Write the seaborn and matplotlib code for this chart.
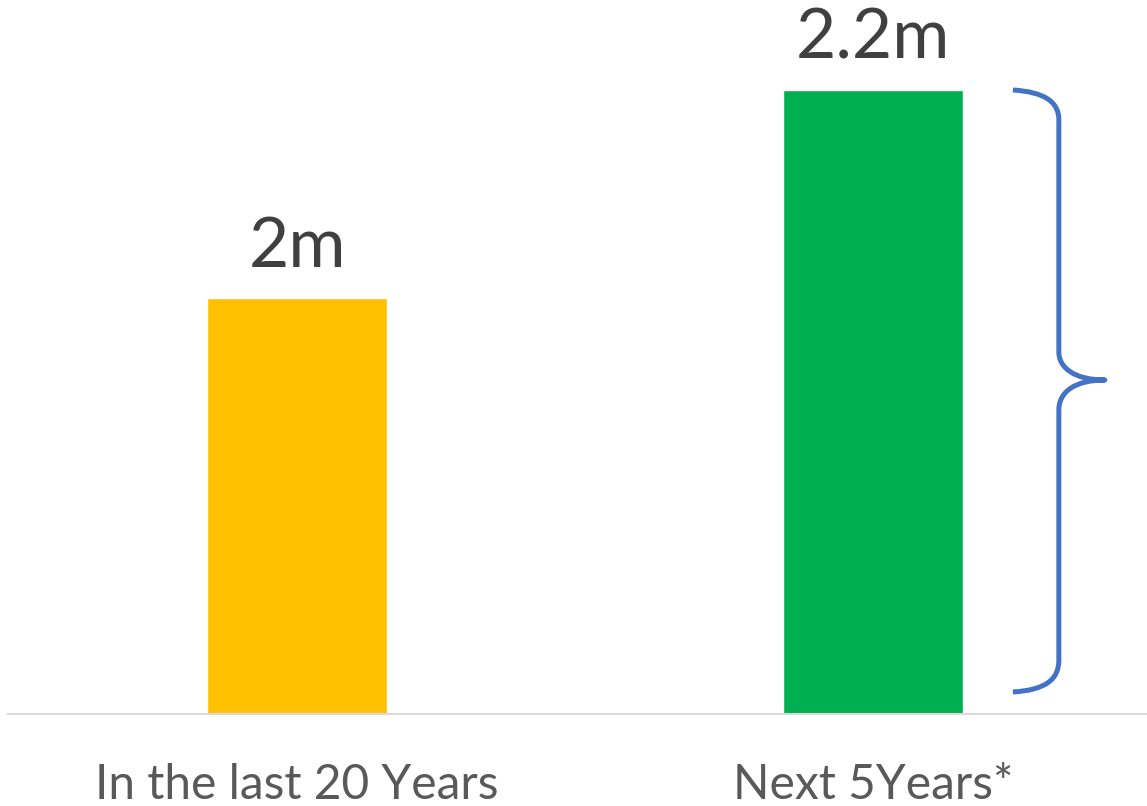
import matplotlib
matplotlib.use("Agg")
import matplotlib.pyplot as plt
from matplotlib.path import Path
from matplotlib.patches import PathPatch
import seaborn as sns
import pandas as pd

categories = ["In the last 20 Years", "Next 5Years*"]
values = [2.0, 2.2]
value_labels = ["2m", "2.2m"]
bar_colors = ["#FFC000", "#00B050"]

sns.set_theme(style="white")
plt.rcParams["font.family"] = ["Lato", "DejaVu Sans"]

W, H = 1147, 806
fig = plt.figure(figsize=(W / 100, H / 100), dpi=100)
ax = fig.add_axes([8 / W, (H - 714) / H, (W - 8) / W, 714 / H])

df = pd.DataFrame({"cat": categories, "val": values})
sns.barplot(data=df, x="cat", y="val", hue="cat", palette=bar_colors,
            legend=False, width=0.3125, ax=ax, saturation=1)

y0 = 1.6
ax.set_ylim(y0, y0 + 714 / 1040)
ax.set_xlim(-0.502, 1.476)

for cont, lab in zip(ax.containers, value_labels):
    ax.bar_label(cont, labels=[lab], padding=14, fontsize=50, color="#404040")

ax.set_xlabel("")
ax.set_ylabel("")
ax.set_yticks([])
ax.tick_params(axis="x", length=0, pad=35, labelsize=34.5, labelcolor="#595959")
for s in ["top", "left", "right"]:
    ax.spines[s].set_visible(False)
ax.spines["bottom"].set_color("#D9D9D9")
ax.spines["bottom"].set_linewidth(1.5)

# curly brace next to the second bar
def px_to_data(px, py):
    return ((px - 297) / 576, y0 + (714 - py) / 1040)

pts_px = [
    (1013, 90), (1045, 92), (1059, 102), (1059, 120),
    (1059, 352),
    (1059, 368), (1075, 380), (1105, 380),
    (1075, 380), (1059, 392), (1059, 410),
    (1059, 660),
    (1059, 680), (1045, 690), (1013, 692),
]
codes = [Path.MOVETO, Path.CURVE4, Path.CURVE4, Path.CURVE4,
         Path.LINETO,
         Path.CURVE4, Path.CURVE4, Path.CURVE4,
         Path.CURVE4, Path.CURVE4, Path.CURVE4,
         Path.LINETO,
         Path.CURVE4, Path.CURVE4, Path.CURVE4]
verts = [px_to_data(*p) for p in pts_px]
brace = PathPatch(Path(verts, codes), facecolor="none", edgecolor="#4472C4",
                  linewidth=3.6, capstyle="butt", joinstyle="round", clip_on=False)
ax.add_patch(brace)

fig.savefig("out.png", dpi=100)
